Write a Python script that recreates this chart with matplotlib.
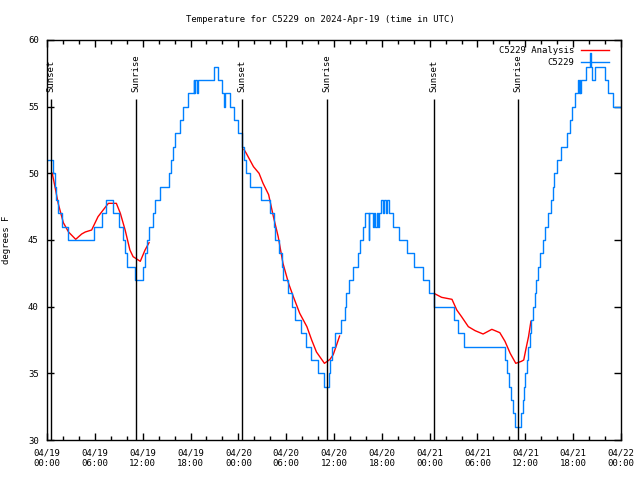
import matplotlib
matplotlib.use("Agg")
import matplotlib.pyplot as plt

# observed temperature (deg F), hour since 04/19 00:00 UTC where the value changes
obs_hours = [0.0, 0.7, 1.0, 1.13, 1.42, 1.84, 2.68, 5.9, 6.86, 7.4, 8.24, 8.99, 9.49, 9.74, 10.0,
             11.08, 12.0, 12.3, 12.5, 12.8, 13.25, 13.55, 14.2, 15.35, 15.6, 15.8, 16.0, 16.7, 17.1,
             17.7, 18.4, 18.5, 18.6, 18.8, 18.9, 20.95, 21.5, 22.0, 22.2, 22.3, 22.95, 23.4, 24.0,
             24.45, 24.7, 25.0, 25.45, 26.8, 28.0, 28.45, 28.65, 29.1, 29.45, 29.65, 30.2, 30.75,
             31.15, 31.9, 32.5, 33.1, 33.95, 34.7, 35.35, 35.55, 35.8, 36.1, 36.9, 37.35, 37.55,
             37.85, 38.4, 38.95, 39.2, 39.6, 39.95, 40.35, 40.45, 40.9, 41.0, 41.2, 41.4, 41.55,
             41.7, 41.9, 42.15, 42.3, 42.5, 42.6, 42.9, 43.4, 44.1, 45.1, 46.0, 47.2, 47.9, 48.5,
             51.0, 51.6, 52.3, 57.4, 57.75, 58.0, 58.25, 58.45, 58.65, 59.5, 59.7, 59.85, 60.0,
             60.15, 60.35, 60.55, 60.75, 60.95, 61.15, 61.35, 61.55, 61.9, 62.2, 62.5, 62.8, 63.2,
             63.45, 63.65, 63.95, 64.5, 65.25, 65.55, 65.85, 66.2, 66.55, 66.7, 66.8, 66.9, 67.0,
             67.55, 68.05, 68.2, 68.4, 68.7, 70.05, 70.4, 71.05, 72.0]
obs_temps = [51, 50, 49, 48, 47, 46, 45, 46, 47, 48, 47, 46, 45, 44, 43,
             42, 43, 44, 45, 46, 47, 48, 49, 50, 51, 52, 53, 54, 55,
             56, 57, 56, 57, 56, 57, 58, 57, 56, 55, 56, 55, 54, 53,
             52, 51, 50, 49, 48, 47, 46, 45, 44, 43, 42, 41, 40,
             39, 38, 37, 36, 35, 34, 35, 36, 37, 38, 39, 40, 41,
             42, 43, 44, 45, 46, 47, 45, 47, 46, 47, 46, 47, 46,
             47, 48, 47, 48, 47, 48, 47, 46, 45, 44, 43, 42, 41, 40,
             39, 38, 37, 36, 35, 34, 33, 32, 31, 32, 33, 34, 35,
             36, 37, 38, 39, 40, 41, 42, 43, 44, 45, 46, 47, 48,
             49, 50, 51, 52, 53, 54, 55, 56, 57, 56, 57, 56, 57,
             58, 59, 58, 57, 58, 57, 56, 55, 55]

# analysis, three overnight pieces
ana1_hours = [0.66, 1.0, 1.4, 2.05, 2.7, 3.6, 4.35, 4.8, 5.6, 6.4, 7.5, 7.7, 8.7, 9.2, 9.8,
              10.4, 10.8, 11.7, 12.3, 12.8]
ana1_temps = [50.0, 49.0, 47.75, 46.3, 45.6, 45.05, 45.45, 45.6, 45.75, 46.75, 47.6, 47.75,
              47.75, 47.0, 45.75, 44.25, 43.75, 43.4, 44.25, 44.8]
ana2_hours = [24.7, 25.0, 25.9, 26.6, 27.1, 27.8, 28.4, 29.0, 29.6, 30.3, 30.9, 31.7, 32.6,
              33.2, 33.8, 34.8, 35.5, 35.9, 36.25, 36.7]
ana2_temps = [51.8, 51.5, 50.5, 50.0, 49.25, 48.4, 46.75, 45.25, 43.25, 41.75, 40.75, 39.5,
              38.5, 37.5, 36.6, 35.75, 36.05, 36.4, 37.0, 37.8]
ana3_hours = [48.7, 49.5, 50.8, 51.4, 52.0, 52.85, 53.7, 54.7, 55.8, 56.8, 57.45, 58.1, 58.8,
              59.5, 59.8, 60.1, 60.4, 60.7]
ana3_temps = [40.95, 40.7, 40.55, 39.75, 39.25, 38.5, 38.2, 37.95, 38.3, 38.05, 37.4, 36.5,
              35.75, 35.9, 36.0, 36.9, 37.75, 38.9]

sun_hours = [0.46, 11.13, 24.5, 35.08, 48.58, 59.12]
sun_names = ["Sunset", "Sunrise", "Sunset", "Sunrise", "Sunset", "Sunrise"]

tick_hours = list(range(0, 73, 6))
tick_labels = ["04/19\n00:00", "04/19\n06:00", "04/19\n12:00", "04/19\n18:00",
               "04/20\n00:00", "04/20\n06:00", "04/20\n12:00", "04/20\n18:00",
               "04/21\n00:00", "04/21\n06:00", "04/21\n12:00", "04/21\n18:00",
               "04/22\n00:00"]

plt.rcParams['font.family'] = 'DejaVu Sans Mono'
plt.rcParams['font.size'] = 6.5

fig = plt.figure(figsize=(6.4, 4.8), dpi=100)
ax = fig.add_axes([47/640, 40/480, 574/640, 400/480])

red = None
for hh, tt in [(ana1_hours, ana1_temps), (ana2_hours, ana2_temps), (ana3_hours, ana3_temps)]:
    red, = ax.plot(hh, tt, color='red', lw=1.0)
blue, = ax.plot(obs_hours, obs_temps, color='#0080ff', lw=1.0, drawstyle='steps-post')

for h, name in zip(sun_hours, sun_names):
    ax.vlines(h, 30, 55.6, color='black', lw=1.0)
    ax.text(h, 56.1, name, rotation=90, ha='center', va='bottom')

ax.set_xlim(0, 72)
ax.set_ylim(30, 60)
ax.set_xticks(tick_hours)
ax.set_xticklabels(tick_labels)
ax.set_xticks(range(0, 73, 2), minor=True)
ax.set_yticks(range(30, 61, 5))
ax.tick_params(direction='in', top=True, right=True, length=5, width=1, pad=6)
ax.tick_params(which='minor', direction='in', top=True, bottom=True, length=3, width=1)
for s in ax.spines.values():
    s.set_linewidth(1.0)
ax.set_ylabel("degrees F", labelpad=12)

ax.legend([red, blue], ["C5229 Analysis", "C5229"], loc='upper right',
          bbox_to_anchor=(1 - 6/574, 1), frameon=False,
          markerfirst=False, handlelength=3.1, borderaxespad=0.3, labelspacing=0.35,
          handletextpad=0.75)

fig.text(0.5, 1 - 20/480, "Temperature for C5229 on 2024-Apr-19 (time in UTC)",
         ha='center', va='center')

fig.savefig("out.png", dpi=100)
